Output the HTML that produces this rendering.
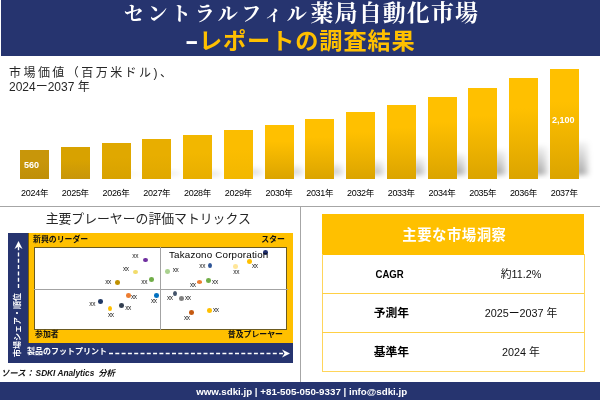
<!DOCTYPE html>
<html lang="ja"><head><meta charset="utf-8"><title>セントラルフィル薬局自動化市場</title>
<style>
html,body{margin:0;padding:0}
body{width:600px;height:400px;position:relative;overflow:hidden;background:#fff;font-family:"Liberation Sans","Noto Sans CJK JP",sans-serif;color:#222}
div{position:absolute;box-sizing:border-box;white-space:nowrap}
.hdr{left:1px;top:0;width:599px;height:55.7px;background:#26346f}
.t1{left:0;top:-3px;width:603px;text-align:center;color:#fff;font-family:"Liberation Serif","Noto Serif CJK JP","Noto Serif CJK SC",serif;font-weight:700;font-size:23px;letter-spacing:1.1px;line-height:34px}
.t1 span{font-size:20px;letter-spacing:3.6px}
.t2{left:184.5px;top:23.5px;color:#ffc000;font-weight:bold;font-size:23.2px;letter-spacing:.9px;line-height:34px}
.t2 b{color:#fff;display:inline-block;transform:scaleX(1.75);transform-origin:0 50%;margin:0 5.8px 0 0}
.sub{left:9px;top:65px;font-size:12px;line-height:14.5px;color:#262626}
.bar{width:29px}
.shc{left:0;top:100px;width:600px;height:78.6px;overflow:hidden}
.sh{width:13px;margin-top:-100px;filter:blur(2.6px)}
.sh div{left:0;top:0;width:100%;height:100%;background:linear-gradient(to bottom,rgba(0,0,0,.05),rgba(0,0,0,.36));-webkit-mask-image:linear-gradient(to right,#000 40%,rgba(0,0,0,.35));mask-image:linear-gradient(to right,#000 40%,rgba(0,0,0,.35))}
.yl{top:185.5px;width:49px;text-align:center;font-size:9px;line-height:14px;color:#000;letter-spacing:-.3px}
.yl i{font-style:normal;font-size:8.5px}
.v{color:#fff;font-weight:bold;font-size:9px;line-height:12px}
.hl{left:0;top:206px;width:600px;height:1px;background:#a6a6a6}
.vl{left:300px;top:206px;width:1px;height:176px;background:#a6a6a6}
.mt{left:0;top:209px;width:296.4px;text-align:center;font-size:12.85px;line-height:20px;color:#262626}
.navy{background:#26346f}
.q{font-weight:bold;font-size:7.9px;line-height:12px;color:#111}
.xx{font-size:6.5px;line-height:8px;color:#222;letter-spacing:-.4px}
.dot{width:5.2px;height:4.8px;border-radius:50%}
.ax{color:#fff;font-weight:bold;font-size:8px;line-height:12px}
.tk{font-size:9.8px;line-height:13px;color:#000;letter-spacing:.18px}
.src{left:1px;top:366px;font-size:8.4px;line-height:14px;font-style:italic;font-weight:bold;color:#111}
.src span{font-size:8.3px;margin:0 1.5px}
.ftr{left:0;top:381.6px;width:603.4px;height:19px;background:#26346f;color:#fff;font-weight:bold;font-size:9.75px;line-height:20px;text-align:center}
.th{left:321.6px;top:214.4px;width:262.6px;height:40.4px;background:#ffc000;color:#fff;text-align:center;font-size:14.4px;font-weight:700;line-height:42px;letter-spacing:.5px;padding-left:3px}
.tb{left:321.6px;top:254px;width:263.2px;height:118.2px;border:1px solid #ffd55a;border-top:none}
.rl{left:322px;width:262px;height:1px;background:#ffd045}
.c1{left:323.4px;width:136px;text-align:center;font-weight:bold;font-size:11.8px;line-height:16px;color:#000}
.c1 span{display:inline-block;font-size:11.3px;transform:scaleX(.85);margin-left:-3px}
.c2{left:458px;width:126px;text-align:center;font-size:11.5px;line-height:16px;color:#111;transform:scaleX(.94)}
</style></head><body>
<div class="hdr"></div>
<div class="t1"><span>セントラルフィル</span>薬局自動化市場</div>
<div class="t2"><b>-</b>レポートの調査結果</div>
<div class="sub"><span style="letter-spacing:2.45px;position:relative;top:1px">市場価値（百万米ドル)、</span><br>2024ー2037 年</div>
<div class="shc"><div class="sh" style="left:46.0px;top:175.8px;height:-0.3px;opacity:0.27"><div></div></div><div class="sh" style="left:86.8px;top:174.6px;height:0.9px;opacity:0.30"><div></div></div><div class="sh" style="left:127.5px;top:172.9px;height:2.6px;opacity:0.35"><div></div></div><div class="sh" style="left:168.3px;top:171.2px;height:4.3px;opacity:0.41"><div></div></div><div class="sh" style="left:209.0px;top:169.5px;height:6.0px;opacity:0.46"><div></div></div><div class="sh" style="left:249.8px;top:167.4px;height:8.1px;opacity:0.53"><div></div></div><div class="sh" style="left:290.5px;top:165.3px;height:10.2px;opacity:0.60"><div></div></div><div class="sh" style="left:331.2px;top:162.8px;height:12.7px;opacity:0.69"><div></div></div><div class="sh" style="left:372.0px;top:159.9px;height:15.6px;opacity:0.79"><div></div></div><div class="sh" style="left:412.7px;top:156.9px;height:18.6px;opacity:0.90"><div></div></div><div class="sh" style="left:453.5px;top:153.6px;height:21.9px;opacity:1.00"><div></div></div><div class="sh" style="left:494.2px;top:149.8px;height:25.7px;opacity:1.00"><div></div></div><div class="sh" style="left:534.9px;top:145.6px;height:29.9px;opacity:1.00"><div></div></div><div class="sh" style="left:575.7px;top:141.8px;height:33.7px;opacity:1.00"><div></div></div></div>
<div class="bar" style="left:20.1px;top:150px;height:29px;background:linear-gradient(#c8960a 40%,#bf8f08)"></div><div class="yl" style="left:10.1px">2024<i>年</i></div>
<div class="bar" style="left:60.8px;top:147px;height:32px;background:linear-gradient(#d8a200 40%,#c8960a)"></div><div class="yl" style="left:50.8px">2025<i>年</i></div>
<div class="bar" style="left:101.5px;top:143px;height:36px;background:linear-gradient(#e0a800 40%,#d8a200)"></div><div class="yl" style="left:91.5px">2026<i>年</i></div>
<div class="bar" style="left:142.3px;top:139px;height:40px;background:linear-gradient(#e8ae00 40%,#e0a800)"></div><div class="yl" style="left:132.3px">2027<i>年</i></div>
<div class="bar" style="left:183.0px;top:135px;height:44px;background:linear-gradient(#f2b700 40%,#e8ae00)"></div><div class="yl" style="left:173.0px">2028<i>年</i></div>
<div class="bar" style="left:223.8px;top:130px;height:49px;background:linear-gradient(#fbbd00 40%,#f2b700)"></div><div class="yl" style="left:213.8px">2029<i>年</i></div>
<div class="bar" style="left:264.5px;top:125px;height:54px;background:linear-gradient(#ffc000 30%,#dba400)"></div><div class="yl" style="left:254.5px">2030<i>年</i></div>
<div class="bar" style="left:305.2px;top:119px;height:60px;background:linear-gradient(#ffc000 30%,#dba400)"></div><div class="yl" style="left:295.2px">2031<i>年</i></div>
<div class="bar" style="left:346.0px;top:112px;height:67px;background:linear-gradient(#ffc000 30%,#dba400)"></div><div class="yl" style="left:336.0px">2032<i>年</i></div>
<div class="bar" style="left:386.7px;top:105px;height:74px;background:linear-gradient(#ffc000 30%,#dba400)"></div><div class="yl" style="left:376.7px">2033<i>年</i></div>
<div class="bar" style="left:427.5px;top:97px;height:82px;background:linear-gradient(#ffc000 30%,#dba400)"></div><div class="yl" style="left:417.5px">2034<i>年</i></div>
<div class="bar" style="left:468.2px;top:88px;height:91px;background:linear-gradient(#ffc000 30%,#dba400)"></div><div class="yl" style="left:458.2px">2035<i>年</i></div>
<div class="bar" style="left:508.9px;top:78px;height:101px;background:linear-gradient(#ffc000 30%,#dba400)"></div><div class="yl" style="left:498.9px">2036<i>年</i></div>
<div class="bar" style="left:549.7px;top:69px;height:110px;background:linear-gradient(#ffc000 30%,#dba400)"></div><div class="yl" style="left:539.7px">2037<i>年</i></div>

<div class="v" style="left:24px;top:159px">560</div>
<div class="v" style="left:552px;top:114px">2,100</div>
<div class="hl"></div><div class="vl"></div>
<div class="mt">主要プレーヤーの評価マトリックス</div>
<div class="navy" style="left:8px;top:233px;width:21px;height:130px"></div><div class="navy" style="left:8px;top:342px;width:285px;height:21px"></div><div style="left:28px;top:233px;width:265px;height:110px;background:#ffc000;border:1px solid #7f6000;border-width:0 0 0 1px"></div><div style="left:34px;top:247.4px;width:253.2px;height:82.6px;background:#fff;border:1px solid #6b5a20"></div><div style="left:160px;top:247px;width:1px;height:83px;background:#a3a3a3"></div><div style="left:34px;top:289px;width:254px;height:1px;background:#a3a3a3"></div><div class="q" style="left:33px;top:234px">新興のリーダー</div><div class="q" style="right:315px;top:234px">スター</div><div class="q" style="left:35px;top:328.5px">参加者</div><div class="q" style="right:317px;top:328.5px">普及プレーヤー</div><div class="ax" style="left:27px;top:346px">製品のフットプリント</div><div class="ax" style="left:18px;top:325px;transform:translate(-50%,-50%) rotate(-90deg)">市場シェア・順位</div><svg style="position:absolute;left:0;top:0" width="300" height="400" viewBox="0 0 300 400"><g stroke="#fff" stroke-width="1.4" fill="none" stroke-dasharray="4 2.3"><path d="M18.5 288V245"/><path d="M109 353.5H283"/></g><path d="M18.5 241l4 8-4-2.5-4 2.5z" fill="#fff"/><path d="M290 353.5l-8-4 2.5 4-2.5 4z" fill="#fff"/></svg><div class="dot" style="left:142.9px;top:257.6px;width:5.2px;height:4.8px;background:#7030a0"></div><div class="xx" style="left:132.3px;top:252.2px">xx</div><div class="dot" style="left:133.2px;top:269.5px;width:5.2px;height:4.8px;background:#f2dc6b"></div><div class="xx" style="left:123.0px;top:265.0px">xx</div><div class="dot" style="left:114.9px;top:280.1px;width:5.2px;height:4.8px;background:#bf9000"></div><div class="xx" style="left:105.2px;top:278.0px">xx</div><div class="dot" style="left:148.9px;top:277.1px;width:5.2px;height:4.8px;background:#70ad47"></div><div class="xx" style="left:141.3px;top:278.3px">xx</div><div class="dot" style="left:125.8px;top:293.0px;width:5.2px;height:4.8px;background:#ed7d31"></div><div class="xx" style="left:131.0px;top:293.0px">xx</div><div class="dot" style="left:153.9px;top:293.2px;width:5.2px;height:4.8px;background:#0070c0"></div><div class="xx" style="left:151.0px;top:297.0px">xx</div><div class="dot" style="left:97.8px;top:299.2px;width:5.2px;height:4.8px;background:#203864"></div><div class="xx" style="left:89.3px;top:300.0px">xx</div><div class="dot" style="left:118.9px;top:303.0px;width:5.2px;height:4.8px;background:#333f50"></div><div class="xx" style="left:125.2px;top:304.0px">xx</div><div class="dot" style="left:108.0px;top:306.1px;width:4px;height:5.2px;background:#ffc000"></div><div class="xx" style="left:108.0px;top:311.0px">xx</div><div class="dot" style="left:262.9px;top:250.0px;width:5.2px;height:4.8px;background:#1f2d6b"></div><div class="dot" style="left:165.0px;top:269.0px;width:5.2px;height:4.8px;background:#a9d18e"></div><div class="xx" style="left:172.7px;top:266.2px">xx</div><div class="dot" style="left:208.0px;top:262.8px;width:4px;height:5.2px;background:#2f5597"></div><div class="xx" style="left:199.3px;top:262.1px">xx</div><div class="dot" style="left:233.0px;top:264.0px;width:5.2px;height:4.8px;background:#ffe699"></div><div class="xx" style="left:233.3px;top:268.1px">xx</div><div class="dot" style="left:246.8px;top:259.2px;width:5.2px;height:4.8px;background:#ffc000"></div><div class="xx" style="left:252.0px;top:262.1px">xx</div><div class="dot" style="left:196.7px;top:280.1px;width:5.4px;height:3.8px;background:#ed7d31"></div><div class="xx" style="left:190.0px;top:281.0px">xx</div><div class="dot" style="left:205.9px;top:278.2px;width:5.2px;height:4.8px;background:#70ad47"></div><div class="xx" style="left:212.1px;top:278.3px">xx</div><div class="dot" style="left:173.0px;top:290.9px;width:4px;height:5.2px;background:#44546a"></div><div class="xx" style="left:167.0px;top:293.8px">xx</div><div class="dot" style="left:178.8px;top:296.1px;width:5.2px;height:4.8px;background:#808080"></div><div class="xx" style="left:185.0px;top:293.8px">xx</div><div class="dot" style="left:188.8px;top:310.1px;width:5.2px;height:4.8px;background:#c55a11"></div><div class="xx" style="left:184.0px;top:313.7px">xx</div><div class="dot" style="left:206.8px;top:308.0px;width:5.2px;height:4.8px;background:#ffc000"></div><div class="xx" style="left:213.0px;top:306.0px">xx</div><div class="tk" style="left:169px;top:248px">Takazono Corporation</div>
<div class="src">ソース：<span>SDKI Analytics</span> 分析</div>
<div class="th">主要な市場洞察</div>
<div class="tb"></div>
<div class="rl" style="top:293.3px"></div><div class="rl" style="top:332.4px"></div>
<div class="c1" style="top:266px"><span>CAGR</span></div><div class="c2" style="top:266px">約11.2%</div>
<div class="c1" style="top:305px">予測年</div><div class="c2" style="top:305px">2025ー2037 年</div>
<div class="c1" style="top:344px">基準年</div><div class="c2" style="top:344px">2024 年</div>
<div class="ftr">www.sdki.jp | +81-505-050-9337 | info@sdki.jp</div>
</body></html>
